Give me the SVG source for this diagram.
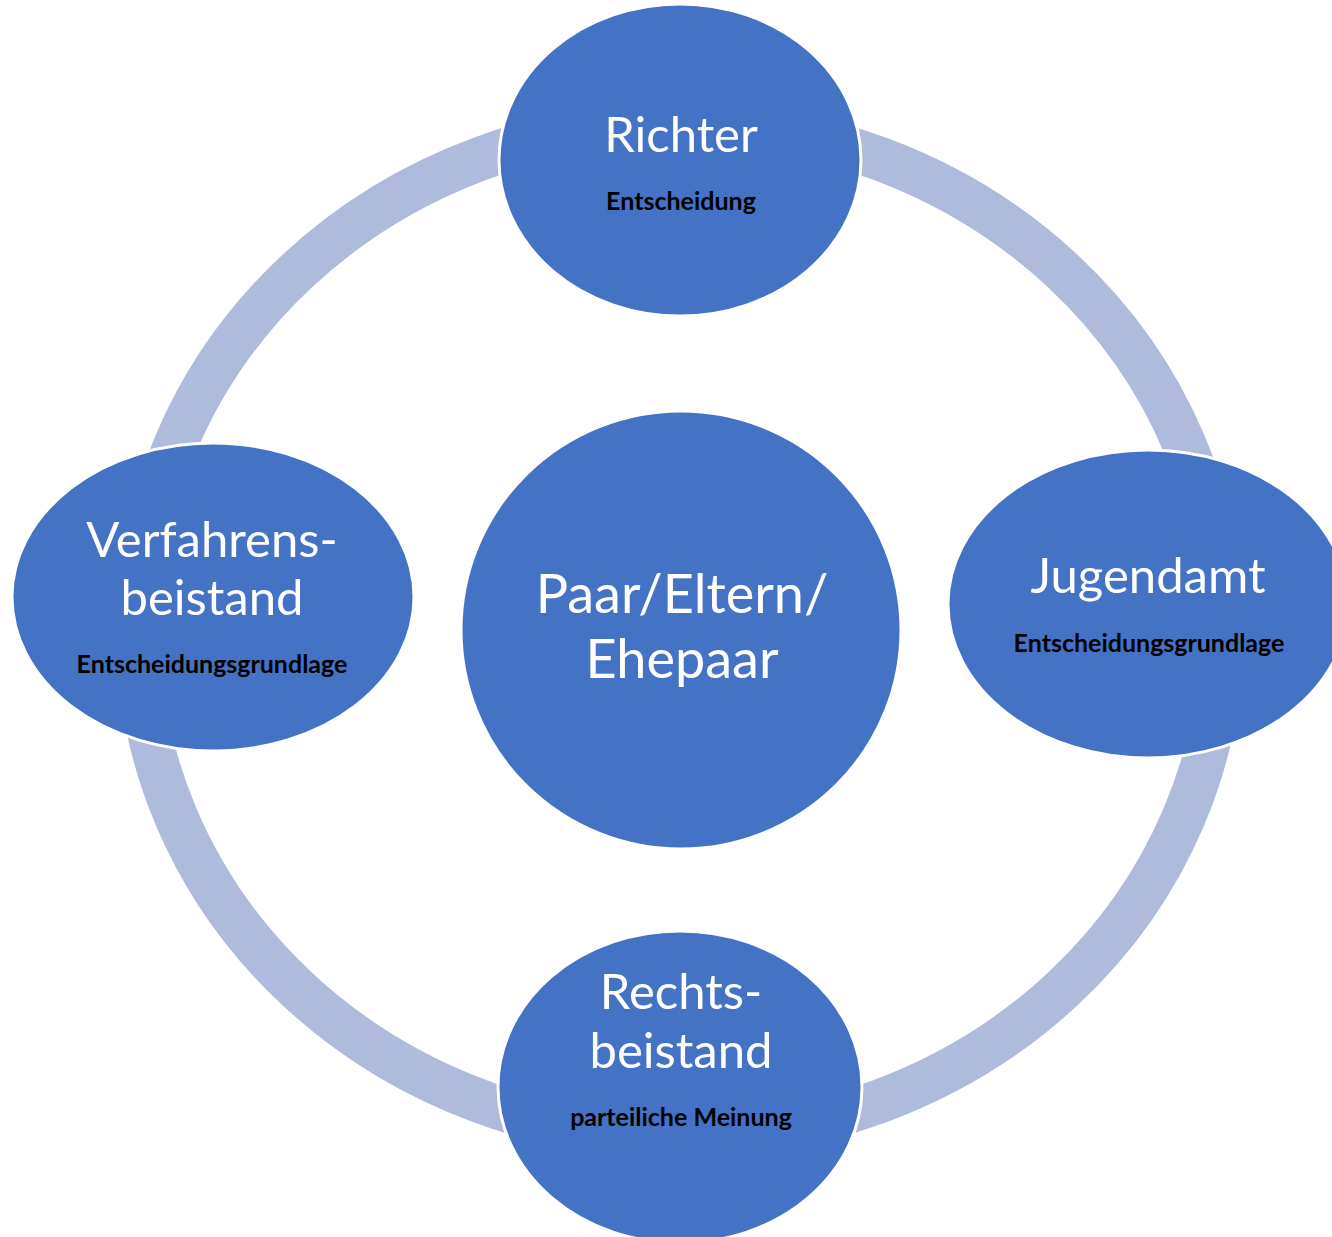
<svg xmlns="http://www.w3.org/2000/svg" width="1332" height="1237" viewBox="0 0 1332 1237">
  <style>
    .ring { fill: none; stroke: #AFBBDD; stroke-width: 44; }
    .node { fill: #4472C4; stroke: #FFFFFF; stroke-width: 3; }
    .title { font-family: Lato, "Open Sans", sans-serif; font-size: 49px; fill: #FFFFFF; text-anchor: middle; }
    .big { font-size: 54px; }
    .sub { font-family: Lato, "Open Sans", sans-serif; font-weight: bold; font-size: 25px; fill: #000000; text-anchor: middle; }
  </style>
  <rect x="0" y="0" width="1332" height="1237" fill="#FFFFFF"/>
  <g id="connectors">
    <path class="ring" d="M 680 123 A 542 507 0 0 1 1222 630"/>
    <path class="ring" d="M 1222 630 A 542 507 0 0 1 680 1137"/>
    <path class="ring" d="M 680 1137 A 542 507 0 0 1 138 630"/>
    <path class="ring" d="M 138 630 A 542 507 0 0 1 680 123"/>
  </g>
  <g id="center">
    <ellipse class="node" cx="681" cy="630" rx="220" ry="219"/>
    <text class="title big" x="682" y="613">Paar/Eltern/</text>
    <text class="title big" x="682" y="678">Ehepaar</text>
  </g>
  <g id="richter">
    <ellipse class="node" cx="680" cy="160" rx="181" ry="156"/>
    <text class="title" x="681" y="152">Richter</text>
    <text class="sub" x="681" y="210">Entscheidung</text>
  </g>
  <g id="jugendamt">
    <ellipse class="node" cx="1148" cy="604" rx="200" ry="154"/>
    <text class="title" x="1148" y="593">Jugendamt</text>
    <text class="sub" x="1149" y="652">Entscheidungsgrundlage</text>
  </g>
  <g id="rechtsbeistand">
    <ellipse class="node" cx="680" cy="1087" rx="182" ry="156"/>
    <text class="title" x="681" y="1009">Rechts-</text>
    <text class="title" x="681" y="1068">beistand</text>
    <text class="sub" x="681" y="1126">parteiliche Meinung</text>
  </g>
  <g id="verfahrensbeistand">
    <ellipse class="node" cx="213" cy="597" rx="201" ry="154"/>
    <text class="title" x="212" y="557">Verfahrens-</text>
    <text class="title" x="212" y="615">beistand</text>
    <text class="sub" x="212" y="673">Entscheidungsgrundlage</text>
  </g>
</svg>
